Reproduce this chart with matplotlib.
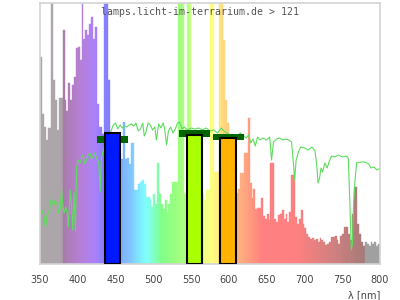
import numpy as np
import matplotlib
matplotlib.use("Agg")
import matplotlib.pyplot as plt
from matplotlib.colors import LinearSegmentedColormap, to_rgb

# ---- data ----
spec_start = 350.0
spec_step = 2.5
spec_heights = [
    207, 150, 137, 124, 136, 136, 300, 184, 164, 134,
    166, 166, 234, 164, 153, 181, 164, 179, 187, 216,
    217, 204, 300, 225, 234, 229, 240, 247, 225, 237,
    160, 137, 137, 130, 300, 300, 184, 110, 110, 110,
    110, 110, 110, 105, 142, 105, 106, 100, 121, 121,
    74, 74, 80, 82, 84, 80, 67, 67, 65, 57,
    70, 60, 101, 70, 60, 55, 64, 51, 60, 70,
    82, 82, 82, 300, 300, 300, 70, 70, 300, 300,
    100, 100, 100, 100, 100, 100, 70, 64, 74, 74,
    300, 300, 92, 92, 92, 300, 300, 224, 164, 141,
    100, 100, 100, 100, 71, 75, 91, 91, 111, 111,
    146, 81, 66, 75, 55, 56, 56, 66, 48, 45,
    50, 44, 101, 101, 45, 42, 49, 50, 54, 45,
    50, 42, 52, 89, 89, 47, 40, 45, 54, 40,
    36, 30, 27, 25, 26, 24, 25, 22, 26, 24,
    22, 19, 20, 22, 27, 27, 28, 24, 20, 28,
    30, 37, 37, 30, 24, 50, 77, 77, 40, 30,
    22, 18, 22, 20, 18, 22, 20, 22, 18, 20,
]

sun_nm = [350, 352, 354, 356, 357.5, 359, 361, 363, 364, 366, 368, 370, 372, 373,
          375, 377, 378.7, 380, 382, 384, 386, 387.5, 389, 390, 391.5, 393.3, 395,
          396.8, 398.5, 400.5, 403, 405, 407, 409, 411, 413, 416, 418, 420, 422, 424,
          426, 428, 429.5, 431, 433, 435, 438, 441, 444, 447, 450, 453, 456, 459, 462,
          465, 468, 471, 474, 477, 480, 483, 486, 488, 490, 493, 496, 499, 502, 504,
          507, 510, 513, 515, 517.5, 520, 523, 526, 529, 532, 535, 538, 541, 545, 550,
          555, 560, 565, 570, 575, 580, 585, 590, 595, 600, 605, 610, 615, 620, 623,
          626, 629, 632, 635, 638, 641, 645, 650, 654, 656.5, 659, 663, 667, 671, 675,
          679, 683, 686, 687, 689, 692, 695, 700, 705, 710, 714, 716, 718, 720, 722,
          724, 727, 730, 733, 736, 740, 745, 750, 755, 758, 760, 762, 763.5, 765, 767,
          769, 775, 780, 785, 788, 792, 796, 800]
sun_vals = [47, 49, 54, 42, 36, 48, 51, 55, 64, 62, 59, 64, 60, 58,
            51, 56, 74, 60, 51, 57, 52, 37, 60, 74, 62, 34, 72,
            33, 97, 104, 101, 106, 109, 100, 103, 108, 111, 105, 107, 111, 108,
            104, 100, 72, 104, 112, 116, 122, 128, 133, 139, 141, 135, 139, 136, 138,
            137, 139, 140, 138, 141, 133, 135, 141, 128, 131, 141, 139, 134, 137, 124,
            140, 136, 141, 135, 119, 133, 137, 131, 135, 141, 142, 135, 137, 134, 136,
            135, 136, 134, 136, 133, 134, 131, 136, 132, 130, 128, 127, 131, 128, 126,
            129, 121, 125, 118, 127, 124, 126, 124, 127, 104, 122, 125, 126, 124, 125,
            124, 122, 95, 84, 104, 112, 117, 116, 114, 117, 113, 101, 81, 86, 96,
            92, 101, 96, 103, 108, 107, 109, 107, 108, 106, 64, 14, 20, 60, 84,
            101, 102, 102, 100, 96, 97, 94, 96]

box_centers = [446, 554.5, 599]
box_heights = [131, 129, 126]
box_colors = ["#0019ff", "#aaff00", "#ffb300"]
ref_heights = [124.5, 130.5, 127]

title = "lamps.licht-im-terrarium.de > 121"
xticks = [350, 400, 450, 500, 550, 600, 650, 700, 750, 800]
xlabel = "λ [nm]"

# ---- colours for spectrum ----
stops = [(350, '#aca6ab'), (378, '#aca6ab'), (380, '#a87ca8'), (400, '#b67fd0'),
         (420, '#ae80f8'), (435, '#8a80ff'), (442, '#8080ff'), (455, '#80a8ff'),
         (470, '#80c8ff'), (490, '#80ffff'), (500, '#80ffd0'), (510, '#80ff88'),
         (530, '#98ff80'), (545, '#b8ff80'), (565, '#e8ff80'), (578, '#ffff80'),
         (590, '#ffe080'), (605, '#ffc080'), (625, '#ffa080'), (645, '#ff8080'),
         (690, '#ff8080'), (740, '#d08080'), (779, '#a87a7a'), (781, '#a0a0a0'),
         (800, '#a0a0a0')]
cmap = LinearSegmentedColormap.from_list(
    "spec", [((w - 350) / 450, to_rgb(c)) for w, c in stops])

fig = plt.figure(figsize=(4, 3), dpi=100)
ax = fig.add_axes([0.1, 0.12, 0.85, 0.87])

wl = spec_start + spec_step * np.arange(len(spec_heights))
cols = [cmap((w + spec_step / 2 - 350) / 450) for w in wl]
ax.bar(wl, spec_heights, width=spec_step, align='edge', color=cols,
       edgecolor=cols, linewidth=0.3, zorder=1)

ax.plot(sun_nm, sun_vals, color='#5ddc5d', lw=0.8, zorder=2)

ax.bar(box_centers, [6.5] * 3, bottom=[r - 3.25 for r in ref_heights], width=41,
       color='#006400', linewidth=0, zorder=3)
ax.bar(box_centers, box_heights, width=20.5, color=box_colors,
       edgecolor='black', linewidth=1.5, zorder=4)

ax.set_xlim(350, 800)
ax.set_ylim(0, 261)
ax.set_yticks([])
ax.set_xticks(xticks)
ax.set_xticklabels([str(t) for t in xticks])
ax.tick_params(axis='x', length=0, pad=8, labelsize=7, labelcolor='#444444')
for s in ax.spines.values():
    s.set_color('#d3d3d3')
    s.set_linewidth(1.2)

fig.text(0.95, 1 - 295 / 300, xlabel, ha='right', va='center', fontsize=7,
         color='#444444')
fig.text(0.5, 1 - 15 / 300, title, ha='center', va='baseline',
         family='DejaVu Sans Mono', fontsize=7.1, color='#555555', zorder=10)

fig.savefig("out.png", dpi=100)
